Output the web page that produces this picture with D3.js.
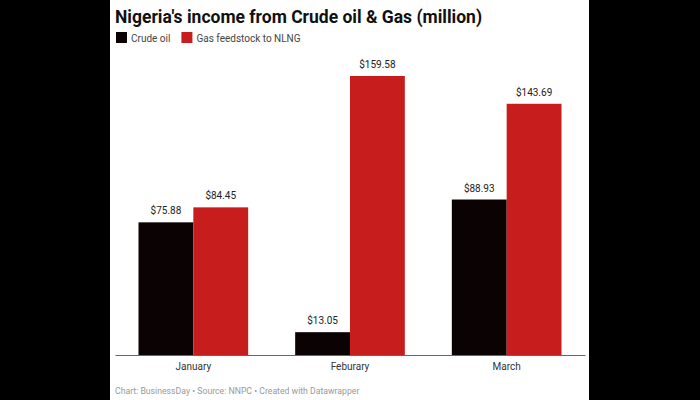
<!DOCTYPE html><html><head><meta charset="utf-8">
<script src="https://cdn.jsdelivr.net/npm/d3@7"></script>
<style>body{margin:0;background:#000}svg{display:block;font-family:Roboto,sans-serif}</style></head><body>
<svg width="700" height="400"></svg>
<script>
const categories=["January","Feburary","March"];
const series=["Crude oil","Gas feedstock to NLNG"];
const crude=[75.88,13.05,88.93];
const gas=[84.45,159.58,143.69];
const colors=["#0b0203","#c71e1d"];
const svg=d3.select("svg");
svg.append("rect").attr("x",110).attr("y",0).attr("width",479).attr("height",400).attr("fill","#fff");
svg.append("text").attr("x",115).attr("y",23).attr("font-size",17.5).attr("font-weight",700).attr("fill","#111").text("Nigeria's income from Crude oil & Gas (million)");
let lx=116;
series.forEach((s,i)=>{
  svg.append("rect").attr("x",lx).attr("y",32).attr("width",11).attr("height",11).attr("fill",colors[i]);
  const t=svg.append("text").attr("x",lx+15).attr("y",42).attr("font-size",10).attr("fill","#444").text(s);
  lx+=t.node().getComputedTextLength()+26;
});
const x=d3.scaleBand().domain(categories).range([115,585]).paddingInner(0.3).paddingOuter(0.15);
const x1=d3.scaleBand().domain(series).range([0,x.bandwidth()]);
const y=d3.scaleLinear().domain([0,159.58]).range([355,76]);
const vals=[crude,gas];
categories.forEach((c,ci)=>{
  series.forEach((s,si)=>{
    const v=vals[si][ci];
    svg.append("rect").attr("x",x(c)+x1(s)).attr("y",y(v)).attr("width",x1.bandwidth()).attr("height",y(0)-y(v)).attr("fill",colors[si]);
    svg.append("text").attr("x",x(c)+x1(s)+x1.bandwidth()/2).attr("y",y(v)-8).attr("text-anchor","middle").attr("font-size",10).attr("fill","#222").text("$"+v.toFixed(2));
  });
});
const ax=svg.append("g").attr("transform","translate(0,355)").call(d3.axisBottom(x).tickSize(0).tickPadding(8));
ax.select(".domain").attr("stroke","#666").attr("stroke-width",1);
ax.selectAll("text").attr("font-size",10).attr("fill","#333").attr("font-family","Roboto,sans-serif");
svg.append("text").attr("x",115).attr("y",394).attr("font-size",8.7).attr("fill","#999").text("Chart: BusinessDay • Source: NNPC • Created with Datawrapper");
</script></body></html>
